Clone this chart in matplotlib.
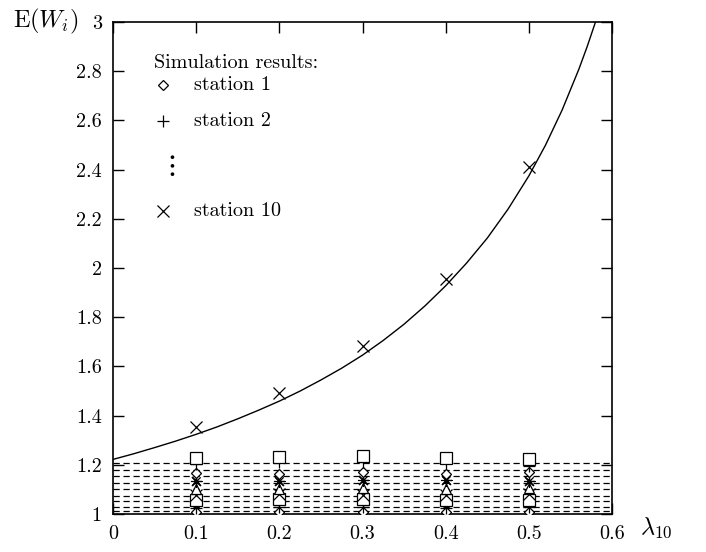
import matplotlib
matplotlib.use("Agg")
import matplotlib.pyplot as plt

plt.rcParams['mathtext.fontset'] = 'cm'
plt.rcParams['font.family'] = ['cmr10', 'DejaVu Serif']
plt.rcParams['axes.unicode_minus'] = False
plt.rcParams['axes.formatter.use_mathtext'] = True

# arrival rate of station 10
lam = [0.1, 0.2, 0.3, 0.4, 0.5]

# analytic curve for station 10
curve_x = [0.0, 0.025, 0.05, 0.075, 0.1, 0.125, 0.15, 0.175, 0.2, 0.225, 0.25,
           0.275, 0.3, 0.325, 0.35, 0.375, 0.4, 0.425, 0.45, 0.475, 0.5,
           0.52, 0.54, 0.56, 0.57, 0.58]
curve_y = [1.222, 1.245, 1.270, 1.296, 1.324, 1.354, 1.387, 1.422, 1.459, 1.500, 1.545,
           1.593, 1.646, 1.706, 1.772, 1.846, 1.928, 2.020, 2.122, 2.240, 2.375,
           2.500, 2.643, 2.808, 2.900, 3.000]

# analytic values for stations 1..9 (dashed lines)
analytic = [1.012, 1.030, 1.054, 1.073, 1.100, 1.127, 1.154, 1.179, 1.208]

# simulation results, stations 1..10
sim = {
    1: [1.010, 1.010, 1.010, 1.010, 1.010],
    2: [1.025, 1.028, 1.027, 1.025, 1.027],
    3: [1.058, 1.060, 1.062, 1.058, 1.057],
    4: [1.078, 1.080, 1.077, 1.079, 1.080],
    5: [1.100, 1.102, 1.105, 1.103, 1.104],
    6: [1.133, 1.135, 1.138, 1.137, 1.135],
    7: [1.166, 1.164, 1.170, 1.164, 1.172],
    8: [1.205, 1.210, 1.212, 1.207, 1.195],
    9: [1.229, 1.233, 1.237, 1.226, 1.224],
    10: [1.352, 1.490, 1.683, 1.955, 2.410],
}

xticks = [0, 0.1, 0.2, 0.3, 0.4, 0.5, 0.6]
xticklabels = ['0', '0.1', '0.2', '0.3', '0.4', '0.5', '0.6']
yticks = [1, 1.2, 1.4, 1.6, 1.8, 2, 2.2, 2.4, 2.6, 2.8, 3]
yticklabels = ['1', '1.2', '1.4', '1.6', '1.8', '2', '2.2', '2.4', '2.6', '2.8', '3']

star = [(-1, 0), (1, 0), (0, 0), (0, 1), (0, -1), (0, 0),
        (-0.75, 0.75), (0.75, -0.75), (0, 0), (-0.75, -0.75), (0.75, 0.75)]
markers = {1: 'D', 2: '+', 3: 's', 4: 'x', 5: '^', 6: star,
           7: 'D', 8: '+', 9: 's', 10: 'x'}
msizes = {1: 5, 2: 8, 3: 8, 4: 8, 5: 7, 6: 8, 7: 5, 8: 8, 9: 8, 10: 8}

fig = plt.figure(figsize=(7.06, 5.52), dpi=100)
ax = fig.add_axes([0.160, 0.0688, 0.707, 0.8912])

for v in analytic:
    ax.plot([0, 0.6], [v, v], color='black', lw=0.9, ls=(0, (5, 3)))

ax.plot(curve_x, curve_y, color='black', lw=1.0)

for s in range(1, 11):
    ax.plot(lam, sim[s], ls='none', marker=markers[s], ms=msizes[s],
            mfc='white' if markers[s] in ('D', 's', '^') else 'none',
            mec='black', mew=0.9, color='black', zorder=3)

ax.set_xlim(0, 0.6)
ax.set_ylim(1, 3)
ax.set_xticks(xticks)
ax.set_xticklabels(xticklabels, fontsize=14.5)
ax.set_yticks(yticks)
ax.set_yticklabels(yticklabels, fontsize=14.5)
ax.tick_params(direction='in', length=8, width=1, top=True, right=True, pad=8)
for sp in ax.spines.values():
    sp.set_linewidth(1.2)


def fx(px):
    return px / 706.0


def fy(py):
    return 1 - py / 552.0


# legend-like annotations
fig.text(fx(154), fy(68), 'Simulation results:', fontsize=14.5, va='baseline')
fig.text(fx(194), fy(90), 'station 1', fontsize=14.5, va='baseline')
fig.text(fx(194), fy(126), 'station 2', fontsize=14.5, va='baseline')
fig.text(fx(194), fy(216), 'station 10', fontsize=14.5, va='baseline')
fig.text(fx(170), fy(166), r'$\vdots$', fontsize=21, ha='center', va='center')

ax.plot([fx(163)], [fy(85)], transform=fig.transFigure, marker='D', ms=5,
        mfc='white', mec='black', mew=0.9, clip_on=False)
ax.plot([fx(163)], [fy(121)], transform=fig.transFigure, marker='+', ms=8,
        mec='black', mew=0.9, clip_on=False)
ax.plot([fx(163)], [fy(211)], transform=fig.transFigure, marker='x', ms=8,
        mec='black', mew=0.9, clip_on=False)

fig.text(fx(13), fy(27), r'$\mathrm{E}(W_i)$', fontsize=17.5, va='baseline')
fig.text(fx(640), fy(534), r'$\lambda_{10}$', fontsize=17.5, va='baseline')

fig.savefig('out.png', dpi=100)
